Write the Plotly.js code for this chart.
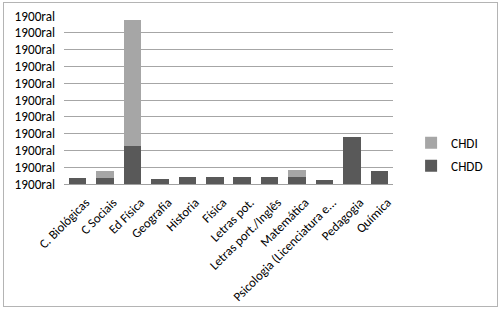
<!DOCTYPE html>
<html><head><meta charset="utf-8">
<script src="https://cdn.plot.ly/plotly-3.0.1.min.js"></script>
<style>html,body{margin:0;padding:0;background:#fff}#frame{position:absolute;left:3px;top:2px;width:493px;height:303px;border:1px solid #b4b4b4;pointer-events:none}</style>
</head><body>
<div id="chart" style="width:500px;height:309px"></div>
<div id="frame"></div>
<script>
const categories = ["C. Biológicas","C Sociais","Ed Física","Geografia","Historia","Física","Letras pot.","Letras port./Inglês","Matemática","Psicologia (Licenciatura e...","Pedagogia","Química"];
const chdd = [0.36,0.36,2.27,0.32,0.44,0.40,0.44,0.44,0.40,0.24,2.78,0.76];
const chdi = [0,0.40,7.47,0,0,0,0,0,0.43,0,0,0];
const tickValues = [0,1,2,3,4,5,6,7,8,9,10];
const tickLabels = tickValues.map(()=> "1900ral");
const fam = "Carlito, Lato, 'Liberation Sans', sans-serif";
const yfont = {family:fam, size:13.2, color:"#000"};
const xfont = {family:fam, size:12.8, color:"#000"};
const lfont = {family:fam, size:13.2, color:"#000"};
const data = [
 {type:"bar", name:"CHDD", x:categories, y:chdd, marker:{color:"#595959"}, legendgroup:"a", legendrank:2},
 {type:"bar", name:"CHDI", x:categories, y:chdi, marker:{color:"#a6a6a6"}, legendgroup:"b", legendrank:1}
];
const layout = {
 width:500, height:309, barmode:"stack", bargap:0.36,
 margin:{l:64, r:78, t:16, b:125},
 paper_bgcolor:"#fff", plot_bgcolor:"#fff", font:yfont,
 showlegend:true,
 legend:{x:1.055, xanchor:"left", y:0.175, yanchor:"middle", traceorder:"grouped", tracegroupgap:3, font:lfont, itemwidth:30},
 xaxis:{tickangle:-45, showgrid:false, showline:true, linecolor:"#a0a0a0", linewidth:1, ticks:"", tickfont:xfont, ticklabelstandoff:5, ticklabelshift:8, automargin:false},
 yaxis:{range:[0,10], tickvals:tickValues, ticktext:tickLabels, showgrid:true, gridcolor:"#a6a6a6", gridwidth:1, zeroline:false, showline:false, ticks:"", ticklabelstandoff:8, tickfont:yfont, automargin:false}
};
Plotly.newPlot("chart", data, layout, {displayModeBar:false, staticPlot:true});
</script>
</body></html>
